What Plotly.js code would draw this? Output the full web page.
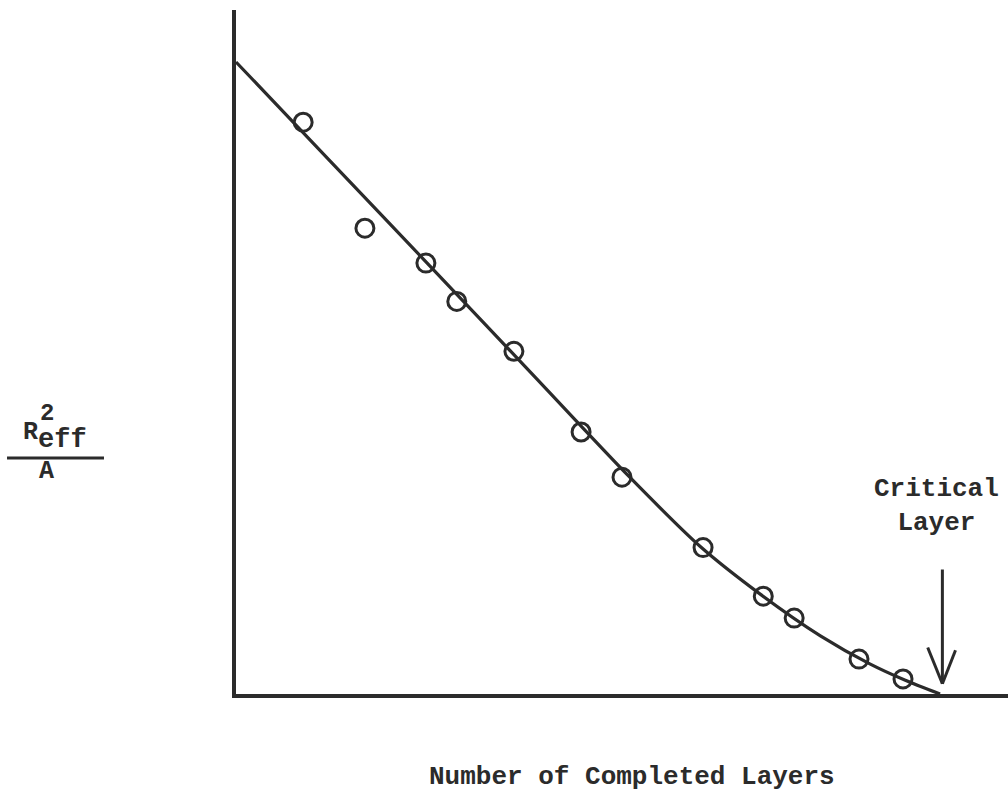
<!DOCTYPE html>
<html>
<head>
<meta charset="utf-8">
<script src="https://cdn.plot.ly/plotly-3.0.1.min.js"></script>
<style>html,body{margin:0;padding:0;background:#fff;}#chart{width:1008px;height:801px;}</style>
</head>
<body>
<div id="chart"></div>
<script>
// Measured data points (arbitrary units, axes carry no scale)
const pointsX = [0.87, 1.67, 2.46, 2.86, 3.60, 4.47, 5.00, 6.05, 6.83, 7.23, 8.07, 8.64];
const pointsY = [8.36, 6.81, 6.30, 5.74, 5.01, 3.83, 3.17, 2.14, 1.43, 1.11, 0.51, 0.22];
// Hand-drawn fitted curve
const curveX = [0, 1.22, 2.51, 3.81, 5.10, 6.01, 6.79, 7.57, 8.21, 8.67, 9.12];
const curveY = [9.24, 7.79, 6.26, 4.71, 3.17, 2.16, 1.46, 0.85, 0.44, 0.20, 0];
const criticalLayer = 9.15;
const xTitle = "Number of Completed Layers";
const criticalLabel = "Critical<br>Layer";

const ink = "#2b2b2b";
const fam = "Liberation Mono, Courier New, monospace";
function f(size) { return {family: fam, color: ink, size: size}; }

const traces = [
  {x: curveX, y: curveY, mode: "lines", line: {color: ink, width: 3.2, shape: "spline", smoothing: 0.8}, hoverinfo: "skip"},
  {x: pointsX, y: pointsY, mode: "markers", marker: {symbol: "circle-open", size: 18, color: ink, line: {width: 3, color: ink}}}
];

const layout = {
  width: 1008, height: 801,
  margin: {l: 236, r: 0, t: 10, b: 107},
  paper_bgcolor: "#fff", plot_bgcolor: "#fff",
  showlegend: false,
  xaxis: {range: [0, 10], showline: true, linewidth: 4, linecolor: ink, showticklabels: false, ticks: "", showgrid: false, zeroline: false, fixedrange: true},
  yaxis: {range: [0, 10], showline: true, linewidth: 4, linecolor: ink, showticklabels: false, ticks: "", showgrid: false, zeroline: false, fixedrange: true},
  shapes: [
    // fraction bar of the y label
    {type: "line", xref: "paper", yref: "paper", x0: -0.2966, x1: -0.171, y0: 0.345, y1: 0.345, line: {color: ink, width: 3}},
    // critical layer arrow
    {type: "line", xref: "x", yref: "y", x0: criticalLayer, x1: criticalLayer, y0: 1.82, y1: 0.15, line: {color: ink, width: 3}},
    {type: "line", xref: "x", yref: "y", x0: criticalLayer - 0.19, x1: criticalLayer, y0: 0.68, y1: 0.15, line: {color: ink, width: 3}},
    {type: "line", xref: "x", yref: "y", x0: criticalLayer + 0.17, x1: criticalLayer, y0: 0.64, y1: 0.15, line: {color: ink, width: 3}}
  ],
  annotations: [
    {xref: "paper", yref: "paper", x: 0.513, y: -0.1213, text: "<b>" + xTitle + "</b>", showarrow: false, font: f(26), xanchor: "center", yanchor: "middle"},
    {xref: "paper", yref: "paper", x: 0.907, y: 0.2749, text: "<b>" + criticalLabel + "</b>", showarrow: false, font: f(26), xanchor: "center", yanchor: "middle", align: "center"},
    {xref: "paper", yref: "paper", x: -0.2668, y: 0.382, text: "<b>R</b>", showarrow: false, font: f(25), xanchor: "center", yanchor: "middle"},
    {xref: "paper", yref: "paper", x: -0.2448, y: 0.4108, text: "<b>2</b>", showarrow: false, font: f(24), xanchor: "center", yanchor: "middle"},
    {xref: "paper", yref: "paper", x: -0.2241, y: 0.3713, text: "<b>eff</b>", showarrow: false, font: f(27), xanchor: "center", yanchor: "middle"},
    {xref: "paper", yref: "paper", x: -0.2461, y: 0.3246, text: "<b>A</b>", showarrow: false, font: f(25), xanchor: "center", yanchor: "middle"}
  ]
};

Plotly.newPlot("chart", traces, layout, {displayModeBar: false, staticPlot: true});
</script>
</body>
</html>
